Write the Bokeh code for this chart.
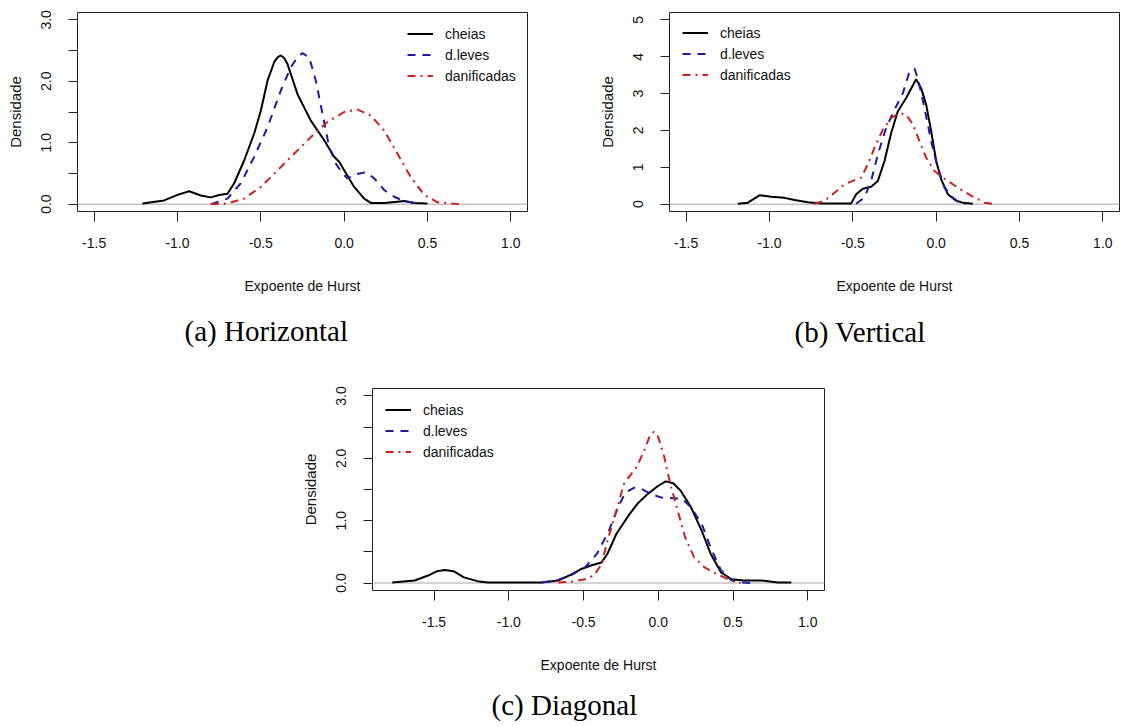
from bokeh.plotting import figure
from bokeh.models import (FixedTicker, Span, Legend, LegendItem, Title, Spacer,
                          Range1d, NumeralTickFormatter)
from bokeh.layouts import column, row
from bokeh.embed import file_html
from bokeh.resources import INLINE

# ---------------- data ----------------
series_names = ["cheias", "d.leves", "danificadas"]
x_ticks = [-1.5, -1.0, -0.5, 0.0, 0.5, 1.0]
captions = ["(a) Horizontal", "(b) Vertical", "(c) Diagonal"]
x_title = "Expoente de Hurst"
y_title = "Densidade"

# (a) Horizontal
h_cheias_x = [-1.21, -1.08, -1.00, -0.93, -0.86, -0.80, -0.75, -0.70, -0.66, -0.60, -0.54, -0.50,
              -0.46, -0.42, -0.40, -0.38, -0.36, -0.34, -0.28, -0.20, -0.12, -0.06, -0.03, 0.00,
              0.06, 0.12, 0.16, 0.24, 0.32, 0.36, 0.42, 0.50]
h_cheias_y = [0.01, 0.06, 0.15, 0.21, 0.14, 0.11, 0.15, 0.17, 0.34, 0.71, 1.15, 1.52,
              2.01, 2.31, 2.39, 2.42, 2.38, 2.28, 1.79, 1.36, 1.04, 0.77, 0.69, 0.55,
              0.28, 0.09, 0.02, 0.02, 0.04, 0.05, 0.02, 0.01]
h_leves_x = [-0.80, -0.70, -0.62, -0.54, -0.46, -0.38, -0.32, -0.28, -0.25, -0.21, -0.17, -0.13,
             -0.09, -0.05, -0.01, 0.02, 0.08, 0.13, 0.18, 0.24, 0.30, 0.36, 0.44]
h_leves_y = [0.00, 0.09, 0.34, 0.77, 1.25, 1.85, 2.23, 2.39, 2.46, 2.39, 2.01, 1.47,
             0.93, 0.66, 0.50, 0.42, 0.49, 0.52, 0.42, 0.23, 0.12, 0.05, 0.01]
h_danif_x = [-0.80, -0.70, -0.60, -0.50, -0.40, -0.30, -0.20, -0.10, 0.00, 0.08, 0.16, 0.24,
             0.32, 0.40, 0.48, 0.56, 0.69]
h_danif_y = [0.00, 0.01, 0.09, 0.28, 0.55, 0.82, 1.09, 1.34, 1.50, 1.54, 1.44, 1.20,
             0.82, 0.44, 0.15, 0.03, 0.00]

# (b) Vertical
v_cheias_x = [-1.19, -1.13, -1.06, -0.99, -0.91, -0.85, -0.77, -0.69, -0.51, -0.48, -0.44, -0.39,
              -0.35, -0.31, -0.27, -0.23, -0.18, -0.15, -0.12, -0.09, -0.06, -0.03, 0.00, 0.03,
              0.07, 0.12, 0.16, 0.22]
v_cheias_y = [0.01, 0.04, 0.24, 0.20, 0.17, 0.11, 0.05, 0.02, 0.02, 0.27, 0.42, 0.47,
              0.63, 1.17, 1.93, 2.52, 2.88, 3.14, 3.39, 3.14, 2.70, 1.98, 1.17, 0.67,
              0.27, 0.09, 0.04, 0.01]
v_leves_x = [-0.48, -0.43, -0.39, -0.35, -0.30, -0.25, -0.20, -0.16, -0.13, -0.11, -0.07, -0.03,
             0.01, 0.05, 0.10, 0.14, 0.18]
v_leves_y = [0.01, 0.18, 0.63, 1.35, 2.07, 2.56, 3.01, 3.59, 3.68, 3.41, 2.61, 1.71,
             0.99, 0.45, 0.18, 0.04, 0.01]
v_danif_x = [-0.73, -0.67, -0.61, -0.55, -0.50, -0.45, -0.41, -0.37, -0.32, -0.27, -0.22, -0.18,
             -0.14, -0.10, -0.06, -0.01, 0.04, 0.10, 0.16, 0.23, 0.29, 0.34]
v_danif_y = [0.01, 0.09, 0.31, 0.54, 0.63, 0.72, 1.08, 1.53, 2.02, 2.34, 2.47, 2.43,
             2.16, 1.71, 1.26, 0.90, 0.72, 0.54, 0.36, 0.18, 0.04, 0.01]

# (c) Diagonal
d_cheias_x = [-1.78, -1.63, -1.54, -1.48, -1.43, -1.37, -1.30, -1.21, -1.14, -0.78, -0.67, -0.58,
              -0.52, -0.45, -0.38, -0.34, -0.28, -0.20, -0.14, -0.07, 0.00, 0.05, 0.10, 0.15,
              0.22, 0.29, 0.35, 0.42, 0.49, 0.57, 0.69, 0.80, 0.89]
d_cheias_y = [0.01, 0.04, 0.12, 0.19, 0.21, 0.19, 0.09, 0.03, 0.01, 0.01, 0.04, 0.14,
              0.22, 0.28, 0.33, 0.47, 0.79, 1.08, 1.27, 1.43, 1.56, 1.63, 1.60, 1.48,
              1.21, 0.84, 0.47, 0.17, 0.06, 0.04, 0.04, 0.01, 0.01]
d_leves_x = [-0.78, -0.67, -0.58, -0.49, -0.41, -0.33, -0.27, -0.22, -0.16, -0.12, -0.05, 0.02,
             0.10, 0.16, 0.22, 0.29, 0.35, 0.42, 0.49, 0.55, 0.63]
d_leves_y = [0.01, 0.05, 0.13, 0.25, 0.47, 0.84, 1.21, 1.45, 1.53, 1.52, 1.43, 1.37,
             1.36, 1.35, 1.21, 0.95, 0.57, 0.20, 0.04, 0.01, 0.00]
d_danif_x = [-0.67, -0.58, -0.49, -0.43, -0.38, -0.34, -0.28, -0.23, -0.18, -0.14, -0.09, -0.06,
             -0.03, 0.00, 0.04, 0.08, 0.13, 0.18, 0.24, 0.31, 0.37, 0.44, 0.51, 0.55]
d_danif_y = [0.01, 0.02, 0.06, 0.12, 0.30, 0.68, 1.16, 1.59, 1.75, 1.88, 2.15, 2.34,
             2.43, 2.34, 2.02, 1.59, 1.16, 0.73, 0.41, 0.25, 0.17, 0.09, 0.02, 0.00]

# ---------------- styling ----------------
SANS = "Liberation Sans"
SERIF = "Liberation Serif"
COLORS = ["#000000", "#1a1aa6", "#cc2020"]
DASHES = ["solid", "8 7", "8 5 2 5"]


def make_panel(width, height, b_left, b_right, b_top, b_bottom, xr, yr,
               yticks, yminor, yfmt, curves, leg_xy, caption, cap_offset, cap_gap):
    p = figure(width=width, height=height, x_range=Range1d(*xr), y_range=Range1d(*yr),
               output_backend="svg", toolbar_location=None,
               min_border_left=b_left, min_border_right=b_right,
               min_border_top=b_top, min_border_bottom=b_bottom)
    p.background_fill_color = "white"
    p.border_fill_color = "white"
    p.outline_line_color = "#222222"
    p.outline_line_width = 1
    p.xgrid.visible = False
    p.ygrid.visible = False

    p.add_layout(Span(location=0, dimension="width", line_color="#c4c4c4",
                      line_width=1.5, level="underlay"))

    rends = []
    for (xs, ys), col, dash in zip(curves, COLORS, DASHES):
        r = p.line(xs, ys, line_color=col, line_width=2, line_dash=dash)
        rends.append(r)

    xa = p.xaxis[0]
    xa.ticker = FixedTicker(ticks=x_ticks, minor_ticks=[])
    xa.formatter = NumeralTickFormatter(format="0.0")
    xa.axis_label = x_title
    xa.major_tick_out = 10
    xa.major_label_standoff = 16
    xa.axis_label_standoff = 27

    ya = p.yaxis[0]
    ya.ticker = FixedTicker(ticks=yticks, minor_ticks=yminor)
    ya.formatter = NumeralTickFormatter(format=yfmt)
    ya.axis_label = y_title
    ya.major_label_orientation = "vertical"
    ya.major_tick_out = 9
    ya.minor_tick_out = 9
    ya.major_label_standoff = 17
    ya.axis_label_standoff = 15

    for ax in (xa, ya):
        ax.axis_line_color = None
        ax.major_tick_in = 0
        ax.minor_tick_in = 0
        ax.major_tick_line_color = "#222222"
        ax.minor_tick_line_color = "#222222"
        ax.major_label_text_font = SANS
        ax.major_label_text_font_size = "14px"
        ax.major_label_text_color = "#111111"
        ax.axis_label_text_font = SANS
        ax.axis_label_text_font_style = "normal"
        ax.axis_label_text_color = "#111111"
    xa.axis_label_text_font_size = "14px"
    ya.axis_label_text_font_size = "15px"
    xa.minor_tick_out = 0

    legend = Legend(items=[LegendItem(label=n, renderers=[r]) for n, r in zip(series_names, rends)],
                    location=leg_xy, border_line_color=None, background_fill_alpha=0,
                    glyph_width=26, glyph_height=21, label_height=21, spacing=0,
                    padding=0, margin=0, label_standoff=12,
                    label_text_font=SANS, label_text_font_size="14px",
                    label_text_color="#111111")
    p.add_layout(legend, "center")

    # gap between the axis title and the caption
    p.add_layout(Title(text=" ", text_font_size="1px", standoff=cap_gap), "below")
    p.add_layout(Title(text=caption, text_font=SERIF, text_font_size="29px",
                       text_font_style="normal", text_color="black",
                       align="left", offset=cap_offset, standoff=0), "below")
    return p


pa = make_panel(592, 352, 77, 65, 12, 140, (-1.6, 1.1), (-0.12, 3.12),
                [0, 1, 2, 3], [0.5, 1.5, 2.5], "0.0",
                [(h_cheias_x, h_cheias_y), (h_leves_x, h_leves_y), (h_danif_x, h_danif_y)],
                (330, 125), captions[0], 107, 13)

pb = make_panel(528, 352, 77, 1, 11, 141, (-1.6, 1.1), (-0.2, 5.2),
                [0, 1, 2, 3, 4, 5], [], "0",
                [(v_cheias_x, v_cheias_y), (v_leves_x, v_leves_y), (v_danif_x, v_danif_y)],
                (13, 126), captions[1], 125, 14)

pc = make_panel(539, 372, 77, 10, 36, 134, (-1.912, 1.112), (-0.12, 3.12),
                [0, 1, 2, 3], [0.5, 1.5, 2.5], "0.0",
                [(d_cheias_x, d_cheias_y), (d_leves_x, d_leves_y), (d_danif_x, d_danif_y)],
                (13, 128), captions[2], 119, 8)

layout = column(row(pa, pb), row(Spacer(width=295, height=372), pc))

open("out.html", "w").write(file_html(layout, INLINE))
